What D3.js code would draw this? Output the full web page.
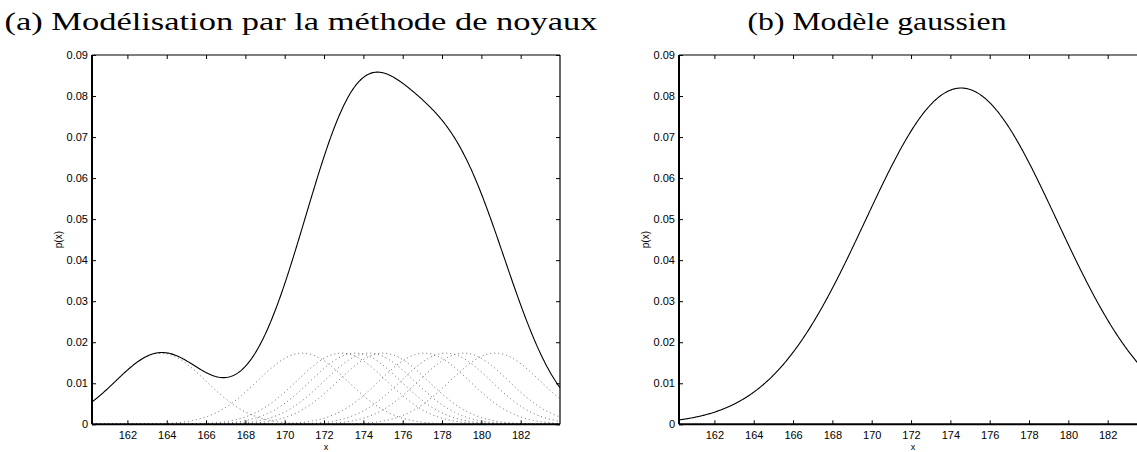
<!DOCTYPE html>
<html>
<head>
<meta charset="utf-8">
<script src="https://cdn.jsdelivr.net/npm/d3@7"></script>
<style>
  html, body { margin: 0; padding: 0; background: #fff; }
  svg { display: block; }
</style>
</head>
<body>
<svg id="chart" width="1137" height="452"></svg>
<script>
// Observations (heights, cm) used for the kernel estimate and the Gaussian fit
const samples = [163.7, 170.9, 172.9, 173.6, 174.3, 175.0, 177.1, 178.2, 179.1, 180.7];
// Kernel bandwidth (standard deviation of each Gaussian kernel)
const bandwidth = 2.3;

const xDomain = [160.2, 184];
const yDomain = [0, 0.09];
const xTicks = [162, 164, 166, 168, 170, 172, 174, 176, 178, 180, 182];
const yTicks = [0, 0.01, 0.02, 0.03, 0.04, 0.05, 0.06, 0.07, 0.08, 0.09];
const yTickLabels = ["0", "0.01", "0.02", "0.03", "0.04", "0.05", "0.06", "0.07", "0.08", "0.09"];
const titles = ["(a) Mod\u00e9lisation par la m\u00e9thode de noyaux", "(b) Mod\u00e8le gaussien"];

const svg = d3.select("#chart");

const panels = [
  { left: 92, right: 560, top: 55, bottom: 424.3, titleX: 301, titleW: 593 },
  { left: 679, right: 1147, top: 55, bottom: 424.3, titleX: 877, titleW: 259 }
];

// evaluation grid along x
const grid = d3.range(xDomain[0], xDomain[1] + 1e-9, 0.04);

function normalPdf(x, mu, s) {
  return Math.exp(-0.5 * ((x - mu) / s) ** 2) / (s * Math.sqrt(2 * Math.PI));
}

// one scaled kernel per observation, and their sum
const n = samples.length;
const kernels = samples.map(c => grid.map(x => ({ x, y: normalPdf(x, c, bandwidth) / n })));
const kde = grid.map((x, i) => ({ x, y: d3.sum(kernels, k => k[i].y) }));

// Gaussian model fitted to the same observations
const mu = d3.mean(samples);
const sigma = d3.deviation(samples);
const gauss = grid.map(x => ({ x, y: normalPdf(x, mu, sigma) }));

svg.append("defs").selectAll("clipPath").data(panels).join("clipPath")
  .attr("id", (d, i) => "clip" + i)
  .append("rect")
  .attr("x", d => d.left).attr("y", d => d.top - 2)
  .attr("width", d => d.right - d.left).attr("height", d => d.bottom - d.top + 4);

panels.forEach((p, i) => {
  const x = d3.scaleLinear().domain(xDomain).range([p.left, p.right]);
  const y = d3.scaleLinear().domain(yDomain).range([p.bottom, p.top]);
  const g = svg.append("g");
  const line = d3.line().x(d => x(d.x)).y(d => y(d.y));

  // panel title
  svg.append("text")
    .attr("x", p.titleX).attr("y", 30)
    .attr("text-anchor", "middle")
    .attr("font-family", "'Liberation Serif', 'DejaVu Serif', serif")
    .attr("font-size", 26)
    .attr("textLength", p.titleW)
    .attr("lengthAdjust", "spacingAndGlyphs")
    .attr("fill", "#000")
    .text(titles[i]);

  const plot = g.append("g").attr("clip-path", `url(#clip${i})`);

  if (i === 0) {
    plot.selectAll("path.kernel").data(kernels).join("path")
      .attr("class", "kernel")
      .attr("d", line)
      .attr("fill", "none")
      .attr("stroke", "#666")
      .attr("stroke-width", 1)
      .attr("stroke-dasharray", "1 3");
    plot.append("path").datum(kde)
      .attr("d", line)
      .attr("fill", "none").attr("stroke", "#000").attr("stroke-width", 1.1);
  } else {
    plot.append("path").datum(gauss)
      .attr("d", line)
      .attr("fill", "none").attr("stroke", "#000").attr("stroke-width", 1.1);
  }

  // inward ticks on all four sides
  const tl = 4;
  const axisFont = "'Liberation Sans', Arial, sans-serif";
  const bottomAxis = d3.axisBottom(x).tickValues(xTicks).tickSize(-tl).tickPadding(7).tickFormat(d3.format("d"));
  const topAxis = d3.axisTop(x).tickValues(xTicks).tickSize(-tl).tickFormat("");
  const leftAxis = d3.axisLeft(y).tickValues(yTicks).tickSize(-tl).tickPadding(4)
    .tickFormat((d, j) => yTickLabels[j]);
  const rightAxis = d3.axisRight(y).tickValues(yTicks).tickSize(-tl).tickFormat("");

  const styleAxis = sel => {
    sel.select(".domain").remove();
    sel.selectAll(".tick line").attr("stroke", "#000").attr("stroke-width", 1);
    sel.selectAll(".tick text").attr("font-family", axisFont).attr("font-size", 11).attr("fill", "#000");
  };

  g.append("g").attr("transform", `translate(0,${p.bottom})`).call(bottomAxis).call(styleAxis);
  g.append("g").attr("transform", `translate(0,${p.top})`).call(topAxis).call(styleAxis);
  g.append("g").attr("transform", `translate(${p.left},0)`).call(leftAxis).call(styleAxis);
  g.append("g").attr("transform", `translate(${p.right},0)`).call(rightAxis).call(styleAxis);

  // frame: heavier left and bottom edges
  g.append("line").attr("x1", p.left).attr("x2", p.right).attr("y1", p.top).attr("y2", p.top)
    .attr("stroke", "#000").attr("stroke-width", 1.2);
  g.append("line").attr("x1", p.right).attr("x2", p.right).attr("y1", p.top).attr("y2", p.bottom)
    .attr("stroke", "#000").attr("stroke-width", 1.2);
  g.append("line").attr("x1", p.left).attr("x2", p.right).attr("y1", p.bottom).attr("y2", p.bottom)
    .attr("stroke", "#000").attr("stroke-width", 2);
  g.append("line").attr("x1", p.left).attr("x2", p.left).attr("y1", p.top).attr("y2", p.bottom)
    .attr("stroke", "#000").attr("stroke-width", 2);

  // axis labels
  g.append("text")
    .attr("x", (p.left + p.right) / 2).attr("y", 450)
    .attr("text-anchor", "middle")
    .attr("font-family", axisFont).attr("font-size", 9).attr("fill", "#000")
    .text("x");
  g.append("text")
    .attr("transform", `translate(${p.left - 30},${(p.top + p.bottom) / 2}) rotate(-90)`)
    .attr("text-anchor", "middle")
    .attr("font-family", axisFont).attr("font-size", 10).attr("fill", "#000")
    .text("p(x)");
});
</script>
</body>
</html>
